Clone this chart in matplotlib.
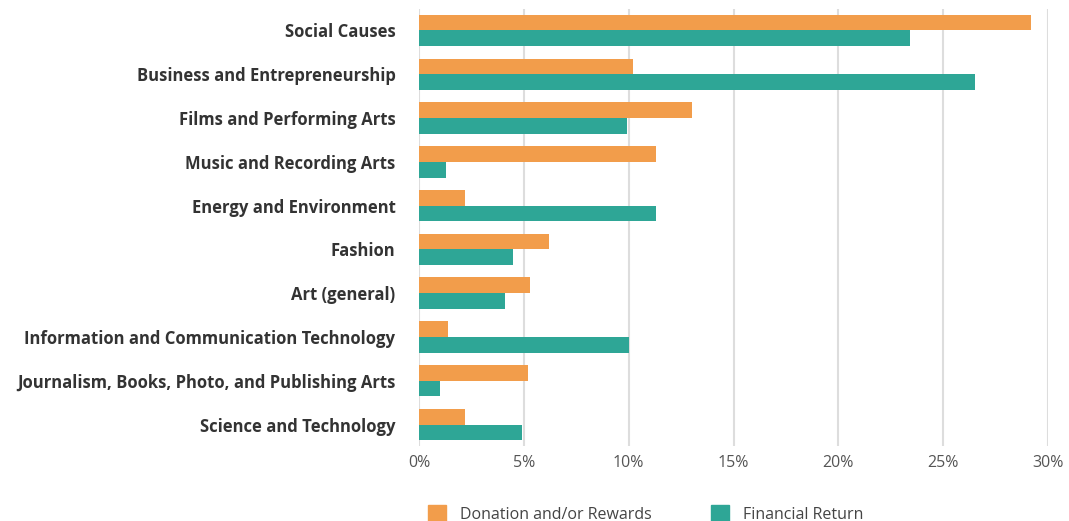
import numpy as np
import matplotlib.pyplot as plt
from matplotlib.patches import Patch

categories = [
    "Social Causes",
    "Business and Entrepreneurship",
    "Films and Performing Arts",
    "Music and Recording Arts",
    "Energy and Environment",
    "Fashion",
    "Art (general)",
    "Information and Communication Technology",
    "Journalism, Books, Photo, and Publishing Arts",
    "Science and Technology",
]
donation = [29.2, 10.2, 13.0, 11.3, 2.2, 6.2, 5.3, 1.4, 5.2, 2.2]
financial = [23.4, 26.5, 9.9, 1.3, 11.3, 4.5, 4.1, 10.0, 1.0, 4.9]
xticks = [0, 5, 10, 15, 20, 25, 30]

orange = "#F29D4B"
teal = "#2EA696"

plt.rcParams['font.family'] = ['Open Sans', 'DejaVu Sans']

fig = plt.figure(figsize=(10.69, 5.21), dpi=100)
ax = fig.add_axes([419 / 1069, 1 - 446.4 / 521, (1048 - 419) / 1069, (446.4 - 8.6) / 521])

y = np.arange(len(categories))
h = 0.36
ax.barh(y - h / 2, donation, height=h, color=orange, zorder=2)
ax.barh(y + h / 2, financial, height=h, color=teal, zorder=2)

ax.set_xlim(0, 30)
ax.set_ylim(len(categories) - 0.5, -0.5)
ax.set_xticks(xticks)
ax.set_xticklabels([f"{t}%" for t in xticks])
ax.set_yticks(y)
ax.set_yticklabels(categories, fontweight='bold', fontsize=12, color='#333333')

ax.grid(axis='x', color='#dddddd', linewidth=1.5, zorder=0)
ax.tick_params(axis='y', length=0, pad=17)
ax.tick_params(axis='x', length=0, pad=6, labelsize=11.5, labelcolor='#555555')
for s in ax.spines.values():
    s.set_visible(False)

handles = [Patch(color=orange, label="Donation and/or Rewards"),
           Patch(color=teal, label="Financial Return")]
fig.legend(handles=handles, loc='center left', bbox_to_anchor=(414 / 1069, 1 - 514 / 521),
           ncol=2, frameon=False, fontsize=11.5, handlelength=1.1, handleheight=1.1,
           columnspacing=3.7, handletextpad=0.9, labelcolor='#444444')

fig.savefig("out.png", dpi=100)
